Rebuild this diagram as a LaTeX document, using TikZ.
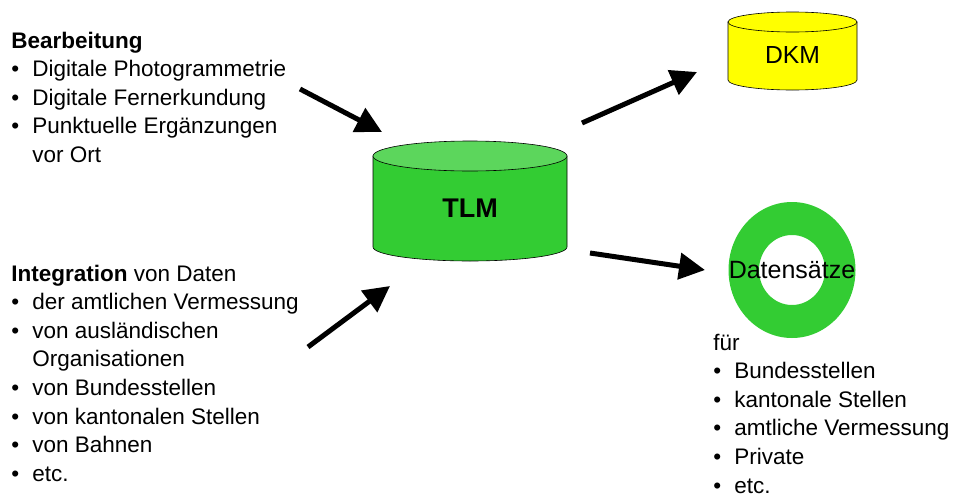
\documentclass[tikz,border=0pt]{standalone}
\usepackage{fontspec}
\setmainfont{Liberation Sans}
\usetikzlibrary{arrows.meta}

\definecolor{tlmgreen}{RGB}{51,204,51}
\definecolor{tlmtop}{RGB}{92,214,92}
\definecolor{dkmyellow}{RGB}{255,255,0}
\newcommand{\itm}{\makebox[21pt][l]{\textbullet}}
\newcommand{\ein}{\hspace*{21pt}}

\tikzset{every picture/.style={line width=0.75pt}}

\begin{document}
\begin{tikzpicture}[
    x=1pt, y=-1pt,
    every node/.style={inner sep=0pt},
    liste/.style={align=left, anchor=base west, font=\fontsize{22.5}{28.6}\selectfont},
    fass/.style={draw=black, line width=0.6pt},
    pfeil/.style={-{Triangle[length=26pt,width=26pt]}, line width=5pt},
]
    \useasboundingbox (0,0) rectangle (956,498);

    \node[liste] (bearb) at (11,162.4) {\textbf{Bearbeitung}\\
        \itm Digitale Photogrammetrie\\
        \itm Digitale Fernerkundung\\
        \itm Punktuelle Ergänzungen\\
        \ein vor Ort};

    \node[liste] (integ) at (11,481.2) {\textbf{Integration} von Daten\\
        \itm der amtlichen Vermessung\\
        \itm von ausländischen\\
        \ein Organisationen\\
        \itm von Bundesstellen\\
        \itm von kantonalen Stellen\\
        \itm von Bahnen\\
        \itm etc.};

    \node[liste] (fuer) at (713,493) {für\\
        \itm Bundesstellen\\
        \itm kantonale Stellen\\
        \itm amtliche Vermessung\\
        \itm Private\\
        \itm etc.};

    \filldraw[fass, fill=tlmgreen] (373,156) -- (373,247)
        arc[start angle=180, end angle=0, x radius=97, y radius=14] -- (567,156) -- cycle;
    \filldraw[fass, fill=tlmtop] (470,156) ellipse [x radius=97, y radius=15];
    \node[font=\fontsize{27}{30}\selectfont\bfseries] (tlm) at (470,208) {TLM};

    \filldraw[fass, fill=dkmyellow] (728,22) -- (728,80)
        arc[start angle=180, end angle=0, x radius=64.5, y radius=10] -- (857,22) -- cycle;
    \filldraw[fass, fill=dkmyellow] (792.5,22) ellipse [x radius=64.5, y radius=10];
    \node[font=\fontsize{24.7}{28}\selectfont] (dkm) at (792.5,55) {DKM};

    \fill[tlmgreen, even odd rule] (792,270) ellipse [x radius=63.5, y radius=68]
        (792,270) ellipse [x radius=33, y radius=35];
    \node[font=\fontsize{25}{28}\selectfont] (ds) at (792,270) {Datensätze};

    \coordinate (bearb-out) at (300,89);
    \coordinate (tlm-in1) at (382,132);
    \coordinate (integ-out) at (308,347);
    \coordinate (tlm-in2) at (390,286);
    \coordinate (tlm-out1) at (582,123);
    \coordinate (dkm-in) at (697,72);
    \coordinate (tlm-out2) at (590,253);
    \coordinate (ds-in) at (705,270);

    \draw[pfeil] (bearb-out) -- (tlm-in1);
    \draw[pfeil] (integ-out) -- (tlm-in2);
    \draw[pfeil] (tlm-out1) -- (dkm-in);
    \draw[pfeil] (tlm-out2) -- (ds-in);
\end{tikzpicture}
\end{document}
